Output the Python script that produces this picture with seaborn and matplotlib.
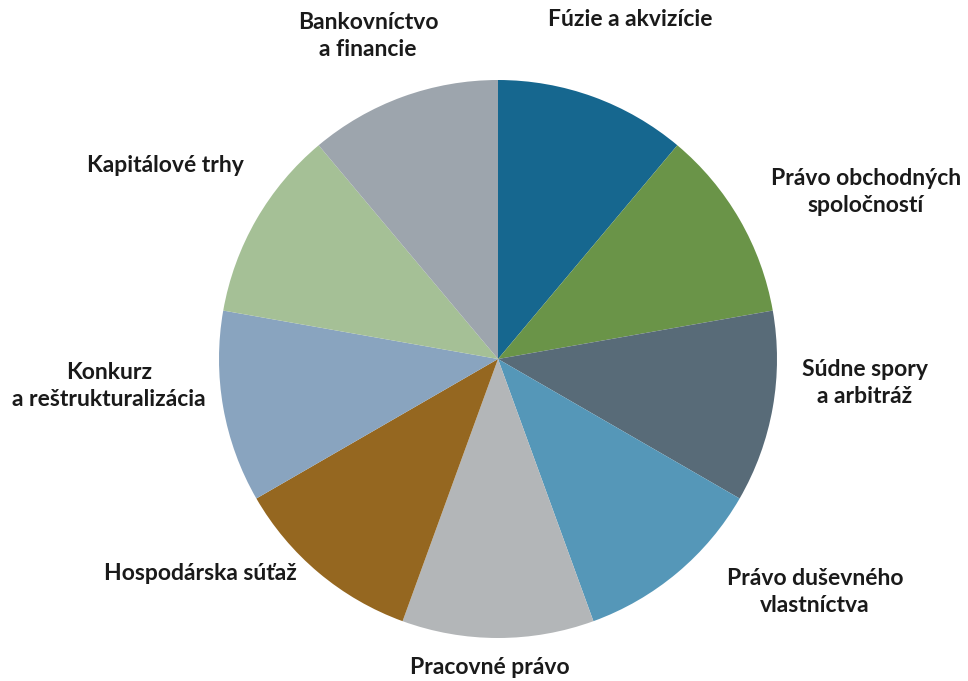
import matplotlib
matplotlib.use("Agg")
import matplotlib.pyplot as plt
import seaborn as sns

# slices, clockwise from 12 o'clock
practice_areas = [
    "Fúzie a akvizície",
    "Právo obchodných\nspoločností",
    "Súdne spory\na arbitráž",
    "Právo duševného\nvlastníctva",
    "Pracovné právo",
    "Hospodárska súťaž",
    "Konkurz\na reštrukturalizácia",
    "Kapitálové trhy",
    "Bankovníctvo\na financie",
]
shares = [1, 1, 1, 1, 1, 1, 1, 1, 1]
slice_colors = ["#16678f", "#6a9448", "#586b78", "#5597b8", "#b3b6b8",
                "#956720", "#89a4bf", "#a5c096", "#9da5ad"]

# label centres in pixels (x, y from top)
label_pos = [(630, 20), (866, 192), (865, 383), (815, 592), (490, 668),
             (200, 574), (109, 386), (165, 165), (368, 36)]

sns.set_theme(style="white")
plt.rcParams['font.family'] = ['Lato', 'DejaVu Sans']

W, H = 968, 681
fig = plt.figure(figsize=(W / 100, H / 100), dpi=100)
ax = fig.add_axes([0, 0, 1, 1])

ax.pie(shares, colors=slice_colors, startangle=90, counterclock=False,
       center=(498, H - 359), radius=279,
       wedgeprops={"linewidth": 0})

for name, (x, y) in zip(practice_areas, label_pos):
    ax.text(x, H - y, name, ha="center", va="center", multialignment="center",
            fontsize=16.5, fontweight="bold", color="#1a1a1a", linespacing=1.3)

ax.set_xlim(0, W)
ax.set_ylim(0, H)
ax.set_aspect("equal")
ax.axis("off")

fig.savefig("out.png", dpi=100, facecolor="white")
